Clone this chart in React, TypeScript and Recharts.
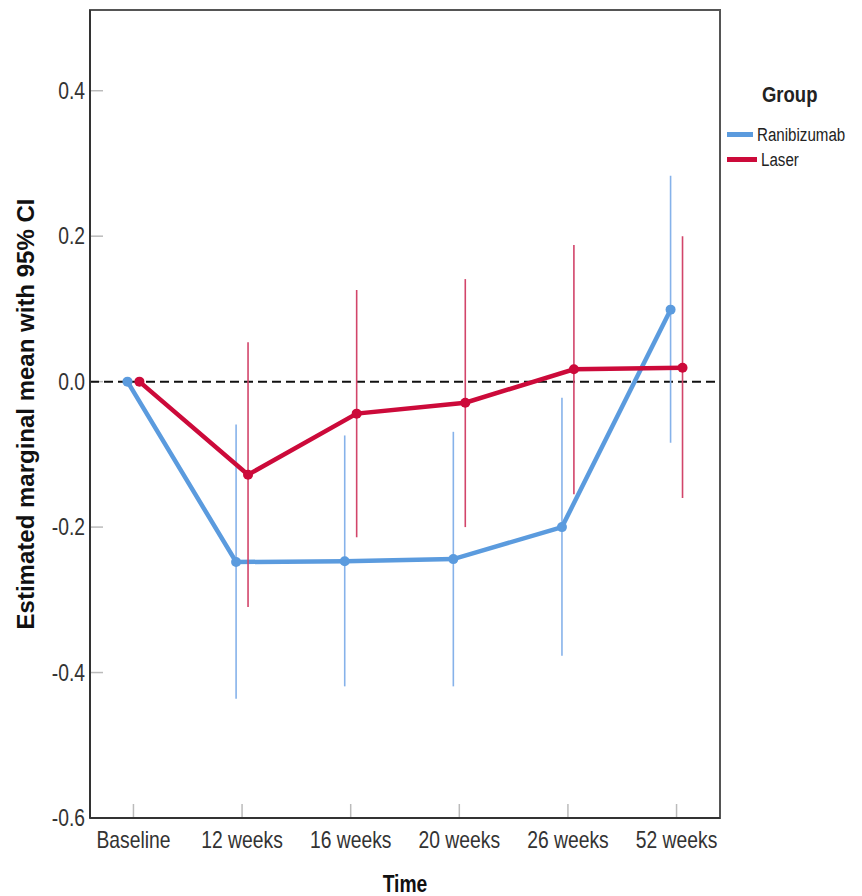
import React from "react";
import { ErrorBar, Legend, Line, LineChart, ReferenceArea, ReferenceLine, XAxis, YAxis } from "recharts";

const timepoints = ["Baseline", "12 weeks", "16 weeks", "20 weeks", "26 weeks", "52 weeks"];
const xTicks = [0, 1, 2, 3, 4, 5];

const ranibizumabMean = [0, -0.248, -0.247, -0.244, -0.2, 0.099];
const ranibizumabLow = [0, -0.436, -0.419, -0.419, -0.377, -0.084];
const ranibizumabHigh = [0, -0.059, -0.074, -0.069, -0.022, 0.283];

const laserMean = [0, -0.128, -0.044, -0.029, 0.017, 0.019];
const laserLow = [0, -0.31, -0.214, -0.2, -0.155, -0.16];
const laserHigh = [0, 0.054, 0.126, 0.141, 0.188, 0.2];

const yTicks = [-0.6, -0.4, -0.2, 0, 0.2, 0.4];

const BLUE = "#5b9bde";
const BLUE_CI = "#86b2ea";
const RED = "#cc0a3a";
const RED_CI = "#d2456a";
const TICK_GRAY = "#bbb";
const FONT = "'Liberation Sans', Arial, sans-serif";
const SQUEEZE = 0.84;

function build(mean: number[], low: number[], high: number[], shift: number) {
  return mean.map((m, i) => ({
    x: i + shift,
    y: m,
    err: [m - low[i], high[i] - m],
  }));
}

const ranibizumabData = build(ranibizumabMean, ranibizumabLow, ranibizumabHigh, -0.055);
const laserData = build(laserMean, laserLow, laserHigh, 0.055);

function XTick({ x, y, payload }: any) {
  return (
    <text
      transform={`translate(${x},${y}) scale(${SQUEEZE},1)`}
      textAnchor="middle"
      dy="0.71em"
      fontFamily={FONT}
      fontSize={23}
      fill="#333"
    >
      {timepoints[payload.value] ?? ""}
    </text>
  );
}

function YTick({ x, y, payload }: any) {
  return (
    <text
      transform={`translate(${x},${y}) scale(${SQUEEZE},1)`}
      textAnchor="end"
      dy="0.36em"
      fontFamily={FONT}
      fontSize={23}
      fill="#333"
    >
      {Number(payload.value).toFixed(1)}
    </text>
  );
}

// inward tick marks drawn at the bottom / left edge of the plot
const bottomTick = (props: any) => {
  const yb = Math.max(props.y1, props.y2);
  return <line x1={props.x1} x2={props.x1} y1={yb} y2={yb - 14} stroke={TICK_GRAY} strokeWidth={1.5} />;
};
const leftTick = (props: any) => {
  const xl = Math.min(props.x1, props.x2);
  return <line x1={xl} x2={xl + 13} y1={props.y1} y2={props.y1} stroke={TICK_GRAY} strokeWidth={1.5} />;
};

const squeezed = (size: number, bold = false): React.CSSProperties => ({
  display: "inline-block",
  fontSize: size,
  fontWeight: bold ? "bold" : "normal",
  transform: `scaleX(${SQUEEZE})`,
  transformOrigin: "left center",
  whiteSpace: "nowrap",
});

function GroupLegend() {
  const items = [
    { name: "Ranibizumab", color: BLUE },
    { name: "Laser", color: RED },
  ];
  return (
    <div style={{ fontFamily: FONT, color: "#222", lineHeight: 1 }}>
      <div style={{ marginLeft: 35, marginBottom: 16 }}>
        <span style={squeezed(22, true)}>Group</span>
      </div>
      {items.map((it) => (
        <div key={it.name} style={{ display: "flex", alignItems: "center", height: 25 }}>
          <span style={{ display: "inline-block", width: 30, height: 5, background: it.color, marginRight: 4 }} />
          <span style={squeezed(18)}>{it.name}</span>
        </div>
      ))}
    </div>
  );
}

export default function App() {
  return (
    <div style={{ position: "absolute", left: 0, top: 0, width: 862, height: 896, background: "#fff" }}>
      <LineChart width={862} height={896} margin={{ top: 10, right: 142, left: 0, bottom: 0 }}>
        <ReferenceArea x1={-0.4} x2={5.4} y1={-0.6} y2={0.511} fill="none" stroke="#555" strokeWidth={2} />
        {xTicks.map((t) => (
          <ReferenceLine key={`xt${t}`} x={t} shape={bottomTick} />
        ))}
        {yTicks.map((t) => (
          <ReferenceLine key={`yt${t}`} y={t} shape={leftTick} />
        ))}
        <XAxis
          dataKey="x"
          type="number"
          domain={[-0.4, 5.4]}
          ticks={xTicks}
          allowDataOverflow
          height={78}
          tickSize={0}
          tickMargin={14}
          tickLine={false}
          axisLine={{ stroke: "#333", strokeWidth: 2 }}
          tick={<XTick />}
          label={{
            content: ({ viewBox }: any) => {
              const cx = viewBox.x + viewBox.width / 2;
              const cy = viewBox.y + viewBox.height - 4;
              return (
                <text
                  transform={`translate(${cx},${cy}) scale(${SQUEEZE},1)`}
                  textAnchor="middle"
                  fontFamily={FONT}
                  fontWeight="bold"
                  fontSize={23}
                  fill="#111"
                >
                  Time
                </text>
              );
            },
          }}
        />
        <YAxis
          type="number"
          domain={[-0.6, 0.511]}
          ticks={yTicks}
          allowDataOverflow
          width={90}
          tickSize={0}
          tickMargin={5}
          tickLine={false}
          axisLine={{ stroke: "#333", strokeWidth: 2 }}
          tick={<YTick />}
          label={{
            content: ({ viewBox }: any) => {
              const cx = viewBox.x + 25;
              const cy = viewBox.y + viewBox.height / 2;
              return (
                <text
                  x={cx}
                  y={cy}
                  transform={`rotate(-90 ${cx} ${cy})`}
                  textAnchor="middle"
                  dominantBaseline="central"
                  fontFamily={FONT}
                  fontWeight="bold"
                  fontSize={24}
                  fill="#111"
                >
                  Estimated marginal mean with 95% CI
                </text>
              );
            },
          }}
        />
        <ReferenceLine y={0} stroke="#111" strokeWidth={2} strokeDasharray="9 5" />
        <Line
          data={ranibizumabData}
          dataKey="y"
          name="Ranibizumab"
          stroke={BLUE}
          strokeWidth={4.5}
          dot={{ r: 5, fill: BLUE, stroke: BLUE, strokeWidth: 0 }}
          isAnimationActive={false}
        >
          <ErrorBar dataKey="err" direction="y" width={0} stroke={BLUE_CI} strokeWidth={1.6} />
        </Line>
        <Line
          data={laserData}
          dataKey="y"
          name="Laser"
          stroke={RED}
          strokeWidth={4.5}
          dot={{ r: 5, fill: RED, stroke: RED, strokeWidth: 0 }}
          isAnimationActive={false}
        >
          <ErrorBar dataKey="err" direction="y" width={0} stroke={RED_CI} strokeWidth={1.6} />
        </Line>
        <Legend
          layout="vertical"
          align="center"
          verticalAlign="middle"
          content={() => <GroupLegend />}
          wrapperStyle={{ position: "absolute", left: 727, top: 84, width: 135 }}
        />
      </LineChart>
    </div>
  );
}
